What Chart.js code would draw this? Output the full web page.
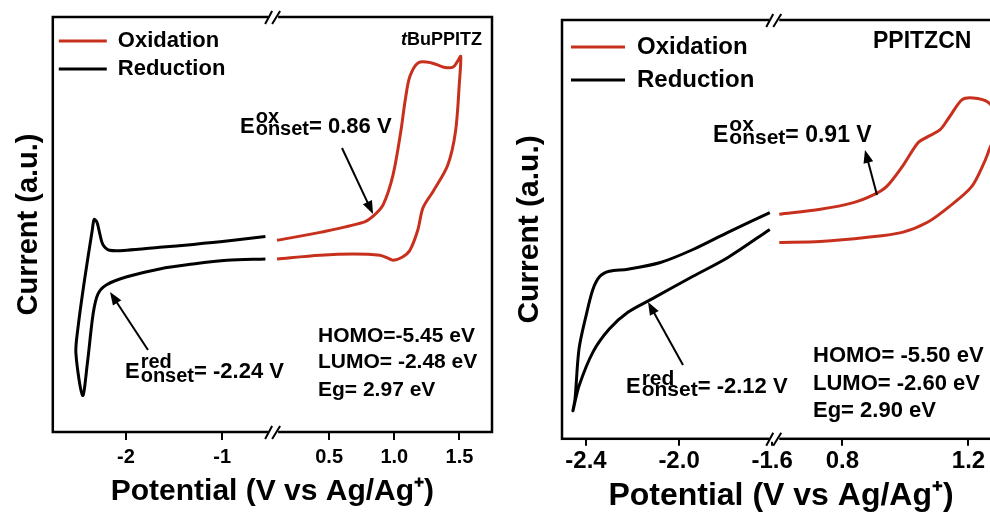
<!DOCTYPE html>
<html>
<head>
<meta charset="utf-8">
<script src="https://cdn.jsdelivr.net/npm/chart.js"></script>
<style>
  body { margin: 0; background: #fff; overflow: hidden; width: 990px; height: 520px; position: relative; }
  canvas { position: absolute; top: 0; }
  #left { left: 0; }
  #right { left: 500px; }
</style>
</head>
<body>
<canvas id="left" width="500" height="520"></canvas>
<canvas id="right" width="520" height="520"></canvas>
<script>
var RED = "#c8301e";
var FONT = "'Liberation Sans', Arial, sans-serif";

// tBuPPITZ  (potential in V, current in a.u.)
var tbuOxV  = [0.10, 0.43, 0.76, 0.84, 0.915, 0.99, 1.05, 1.085, 1.12, 1.185, 1.28, 1.38, 1.45, 1.485, 1.51,
               1.50, 1.47, 1.41, 1.30, 1.22, 1.18, 1.12, 1.06, 0.99, 0.95, 0.89, 0.685, 0.43, 0.10];
var tbuOxI  = [46.2, 48.1, 50.5, 52.1, 54.8, 61.9, 72.4, 80.2, 85.7, 89.0, 89.0, 87.9, 87.9, 89.3, 90.5,
               84.3, 72.4, 64.3, 58.1, 54.0, 48.6, 43.8, 42.1, 41.4, 41.9, 42.6, 42.9, 42.6, 41.7];
var tbuRedV = [-0.55, -0.95, -1.30, -1.65, -1.99, -2.17, -2.24, -2.27, -2.30, -2.33, -2.35, -2.43, -2.50, -2.52,
               -2.45, -2.40, -2.34, -2.29, -2.20, -1.99, -1.65, -1.30, -0.95, -0.55];
var tbuRedI = [47.1, 46.0, 45.2, 44.5, 43.8, 43.8, 45.2, 47.6, 50.5, 51.2, 48.6, 36.7, 24.8, 19.0,
               8.8, 16.7, 28.6, 33.3, 35.5, 37.4, 39.3, 40.5, 41.4, 41.7];
var tbuTicks = [-2, -1, 0.5, 1.0, 1.5];
var tbuTickLabels = ["-2", "-1", "0.5", "1.0", "1.5"];
var tbuInfo = ["HOMO=-5.45 eV", "LUMO= -2.48 eV", "Eg= 2.97 eV"];

// PPITZCN
var cnOxV  = [0.60, 0.73, 0.835, 0.90, 0.94, 0.99, 1.04, 1.07, 1.11, 1.14, 1.18, 1.215, 1.26, 1.285,
              1.285, 1.27, 1.25, 1.21, 1.14, 1.07, 0.99, 0.88, 0.73, 0.60];
var cnOxI  = [53.6, 54.8, 56.4, 58.3, 60.2, 65.0, 70.7, 72.1, 73.8, 76.9, 81.0, 81.4, 80.5, 78.0,
              72.0, 69.8, 66.0, 60.2, 55.5, 51.7, 49.3, 48.1, 47.1, 46.9];
var cnRedV = [-1.61, -1.79, -1.94, -2.08, -2.22, -2.30, -2.34, -2.37, -2.40, -2.43, -2.447, -2.456,
              -2.43, -2.37, -2.30, -2.22, -2.12, -1.94, -1.79, -1.61];
var cnRedI = [54.0, 49.3, 45.2, 42.1, 40.5, 40.0, 38.8, 35.7, 29.3, 21.4, 9.5, 6.7,
              12.6, 20.7, 26.2, 30.2, 33.3, 38.8, 43.3, 50.0];
var cnTicks = [-2.4, -2.0, -1.6, 0.8, 1.2];
var cnTickLabels = ["-2.4", "-2.0", "-1.6", "0.8", "1.2"];
var cnInfo = ["HOMO= -5.50 eV", "LUMO= -2.60 eV", "Eg= 2.90 eV"];

// broken x axis: segment a0..a1 then b0..b1 stretched by k
function brokenAxis(a0, a1, b0, b1, k) {
  return {
    min: a0, cut: a1, max: a1 + (b1 - b0) * k,
    u: function (v) { return v <= a1 ? v : a1 + (v - b0) * k; }
  };
}
function pts(vs, is, ax) {
  return vs.map(function (v, i) { return {x: ax.u(v), y: is[i]}; });
}

function drawArrow(ctx, a) {
  var ang = Math.atan2(a[3] - a[1], a[2] - a[0]);
  var hl = 13, hw = 5;
  ctx.beginPath();
  ctx.moveTo(a[0], a[1]);
  ctx.lineTo(a[2] - Math.cos(ang) * hl * 0.8, a[3] - Math.sin(ang) * hl * 0.8);
  ctx.stroke();
  ctx.beginPath();
  ctx.moveTo(a[2], a[3]);
  ctx.lineTo(a[2] - Math.cos(ang) * hl - Math.sin(ang) * hw, a[3] - Math.sin(ang) * hl + Math.cos(ang) * hw);
  ctx.lineTo(a[2] - Math.cos(ang) * hl + Math.sin(ang) * hw, a[3] - Math.sin(ang) * hl - Math.cos(ang) * hw);
  ctx.closePath();
  ctx.fill();
}

function drawOnset(ctx, o) {
  ctx.textAlign = "left";
  ctx.textBaseline = "alphabetic";
  ctx.font = "bold " + o.size + "px " + FONT;
  ctx.fillText("E", o.x, o.y);
  var x = o.x + ctx.measureText("E").width + 1;
  ctx.font = "bold " + o.small + "px " + FONT;
  ctx.fillText(o.sup, x, o.y + o.supDy);
  ctx.fillText("onset", x, o.y + o.subDy);
  x += Math.max(ctx.measureText(o.sup).width, ctx.measureText("onset").width);
  ctx.font = "bold " + o.size + "px " + FONT;
  ctx.fillText(o.text, x, o.y);
}

function breakMark(ctx, bx, y) {
  ctx.fillStyle = "#fff";
  ctx.fillRect(bx - 5, y - 3, 10, 6);
  ctx.fillStyle = "#000";
  ctx.beginPath();
  ctx.moveTo(bx - 8, y + 7); ctx.lineTo(bx - 1, y - 6);
  ctx.moveTo(bx - 1, y + 7); ctx.lineTo(bx + 7, y - 6);
  ctx.stroke();
}

function buildPanel(id, p) {
  var decor = {
    id: "decor",
    afterDraw: function (chart) {
      var ctx = chart.ctx, ca = chart.chartArea;
      ctx.save();
      ctx.strokeStyle = "#000";
      ctx.fillStyle = "#000";
      ctx.lineWidth = 2.5;
      ctx.strokeRect(ca.left, ca.top, ca.right - ca.left, ca.bottom - ca.top);
      var bx = chart.scales.x.getPixelForValue(p.axis.cut);
      ctx.lineWidth = 2;
      breakMark(ctx, bx, ca.top);
      breakMark(ctx, bx, ca.bottom);
      p.onsets.forEach(function (o) { drawOnset(ctx, o); });
      ctx.lineWidth = 2;
      p.arrows.forEach(function (a) { drawArrow(ctx, a); });
      ctx.font = "bold " + p.info.size + "px " + FONT;
      p.infoText.forEach(function (t, i) { ctx.fillText(t, p.info.x, p.info.ys[i]); });
      p.drawName(ctx);
      ctx.restore();
    }
  };

  return new Chart(document.getElementById(id), {
    type: "line",
    data: {
      datasets: [
        {label: "Oxidation", data: pts(p.oxV, p.oxI, p.axis), borderColor: RED, backgroundColor: RED,
         pointBorderColor: RED, pointBorderWidth: 3},
        {label: "Reduction", data: pts(p.redV, p.redI, p.axis), borderColor: "#000", backgroundColor: "#000",
         pointBorderColor: "#000", pointBorderWidth: 3}
      ]
    },
    options: {
      responsive: false,
      animation: false,
      layout: {padding: p.pad},
      elements: {
        line: {borderWidth: 3, tension: 0.3, fill: false},
        point: {radius: 0}
      },
      plugins: {
        tooltip: {enabled: false},
        legend: {
          position: "chartArea",
          align: "start",
          title: {display: true, text: " ", font: {size: 10}, padding: p.legend.titlePad},
          labels: {
            usePointStyle: true, pointStyle: "line", pointStyleWidth: p.legend.w,
            padding: p.legend.pad, color: "#000",
            font: {family: FONT, size: p.legend.size, weight: "bold"}
          }
        }
      },
      scales: {
        x: {
          type: "linear", min: p.axis.min, max: p.axis.max,
          afterBuildTicks: function (s) {
            s.ticks = p.ticks.map(function (v) { return {value: p.axis.u(v)}; });
          },
          ticks: {
            callback: function (val, i) { return p.tickLabels[i]; },
            autoSkip: false, maxRotation: 0, color: "#000", padding: p.x.tickPad,
            font: {family: FONT, size: p.x.tickSize, weight: "bold"}
          },
          grid: {display: true, drawOnChartArea: false, drawTicks: true, tickLength: p.x.tickLen, color: "#000", lineWidth: 2},
          border: {display: false},
          title: {
            display: true, text: "Potential (V vs Ag/Ag\u207A)", color: "#000",
            font: {family: FONT, size: p.x.titleSize, weight: "bold"},
            padding: {top: 0, bottom: p.x.titlePad}
          }
        },
        y: {
          min: 0, max: 100,
          ticks: {display: false},
          grid: {display: false, drawTicks: false},
          border: {display: false},
          title: {
            display: true, text: "Current (a.u.)", color: "#000",
            font: {family: FONT, size: p.y.titleSize, weight: "bold"},
            padding: {top: 0, bottom: p.y.titlePad}
          }
        }
      }
    },
    plugins: [decor]
  });
}

var tbuAxis = brokenAxis(-2.76, -0.47, 0.07, 1.75, 130 / 96);
var cnAxis = brokenAxis(-2.503, -1.591, 0.584, 1.30, 315 / 232.5);

buildPanel("left", {
  axis: tbuAxis, oxV: tbuOxV, oxI: tbuOxI, redV: tbuRedV, redI: tbuRedI,
  ticks: tbuTicks, tickLabels: tbuTickLabels, infoText: tbuInfo,
  pad: {left: 12, top: 17, right: 8, bottom: 6},
  legend: {w: 48, pad: 6, size: 22, titlePad: 6},
  x: {tickPad: 5, tickSize: 20, tickLen: 8, titleSize: 30, titlePad: 4},
  y: {titleSize: 29, titlePad: 6},
  onsets: [
    {x: 240, y: 133, sup: "ox", supDy: -10, subDy: 2, size: 22, small: 20, text: "= 0.86 V"},
    {x: 125, y: 378, sup: "red", supDy: -10, subDy: 4, size: 22, small: 20, text: "= -2.24 V"}
  ],
  arrows: [[342, 148, 373, 214], [148, 350, 110, 292]],
  info: {x: 318, ys: [342, 368, 396], size: 21},
  drawName: function (ctx) {
    ctx.textBaseline = "alphabetic";
    ctx.textAlign = "right";
    ctx.font = "bold 18px " + FONT;
    ctx.fillText("BuPPITZ", 482, 45);
    var w = ctx.measureText("BuPPITZ").width;
    ctx.font = "italic bold 18px " + FONT;
    ctx.fillText("t", 482 - w, 45);
  }
});

buildPanel("right", {
  axis: cnAxis, oxV: cnOxV, oxI: cnOxI, redV: cnRedV, redI: cnRedI,
  ticks: cnTicks, tickLabels: cnTickLabels, infoText: cnInfo,
  pad: {left: 12, top: 20, right: 20, bottom: 2},
  legend: {w: 54, pad: 9, size: 24, titlePad: 7},
  x: {tickPad: 1, tickSize: 24, tickLen: 7, titleSize: 32, titlePad: 3},
  y: {titleSize: 30, titlePad: 14},
  onsets: [
    {x: 213, y: 142, sup: "ox", supDy: -11, subDy: 2, size: 23, small: 21, text: "= 0.91 V"},
    {x: 126, y: 393, sup: "red", supDy: -8, subDy: 3, size: 22, small: 21, text: "= -2.12 V"}
  ],
  arrows: [[377, 195, 365, 150], [183, 365, 148, 302]],
  info: {x: 313, ys: [362, 390, 417], size: 22},
  drawName: function (ctx) {
    ctx.textBaseline = "alphabetic";
    ctx.textAlign = "left";
    ctx.font = "bold 23px " + FONT;
    ctx.fillText("PPITZCN", 373, 48);
  }
});
</script>
</body>
</html>
